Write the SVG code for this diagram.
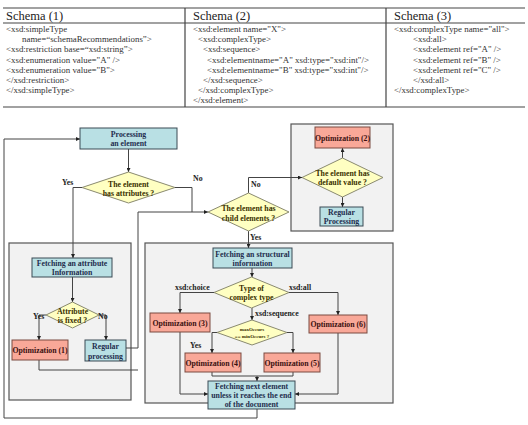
<svg xmlns="http://www.w3.org/2000/svg" width="528" height="425" viewBox="0 0 528 425">
<defs>
<marker id="ah" viewBox="0 0 6 6" refX="6" refY="3" markerWidth="4" markerHeight="4" orient="auto-start-reverse" markerUnits="strokeWidth">
<path d="M0,0 L6,3 L0,6 Z" fill="#222"/>
</marker>
<style>
.tl{stroke:#444;stroke-width:1.2;fill:none}
.th{font-family:"Liberation Serif","Times New Roman",serif;font-size:12.5px;fill:#222}
.tb{font-family:"Liberation Serif","Times New Roman",serif;font-size:8.9px;fill:#333}
.cont{fill:#f2f2f2;stroke:#555;stroke-width:1.2}
.teal{fill:#b9e0e4;stroke:#3a4a55;stroke-width:1}
.sal{fill:#f9a898;stroke:#7a4a40;stroke-width:1}
.dia{fill:#ffffc2;stroke:#8a8a70;stroke-width:1}
.nt{font-family:"Liberation Serif","Times New Roman",serif;font-weight:bold;font-size:7.8px;text-anchor:middle}
.navy{fill:#1f2d4d}
.mar{fill:#3a1010}
.olv{fill:#3a3000}
.lb{font-family:"Liberation Serif","Times New Roman",serif;font-weight:bold;font-size:7.8px;fill:#222}
.cn{stroke:#444;stroke-width:1;fill:none}
.ar{marker-end:url(#ah)}
</style>
</defs>
<rect width="528" height="425" fill="#fff"/>
<g id="table">
<line class="tl" x1="3" y1="8" x2="525" y2="8"/>
<line class="tl" x1="3" y1="23" x2="525" y2="23"/>
<line class="tl" x1="3" y1="107" x2="525" y2="107"/>
<line class="tl" x1="185" y1="8" x2="185" y2="107"/>
<line class="tl" x1="386" y1="8" x2="386" y2="107"/>
<text class="th" x="6" y="20">Schema (1)</text>
<text class="th" x="193" y="20">Schema (2)</text>
<text class="th" x="394" y="20">Schema (3)</text>
<text class="tb" x="6" y="32">&lt;xsd:simpleType</text>
<text class="tb" x="22" y="42.2">name=“schemaRecommendations”&gt;</text>
<text class="tb" x="6" y="52.4">&lt;xsd:restriction base=“xsd:string”&gt;</text>
<text class="tb" x="6" y="62.6">&lt;xsd:enumeration value="A" /&gt;</text>
<text class="tb" x="6" y="72.8">&lt;xsd:enumeration value="B"&gt;</text>
<text class="tb" x="6" y="83">&lt;/xsd:restriction&gt;</text>
<text class="tb" x="6" y="93.2">&lt;/xsd:simpleType&gt;</text>
<text class="tb" x="193" y="32">&lt;xsd:element name="X"&gt;</text>
<text class="tb" x="198" y="42.2">&lt;xsd:complexType&gt;</text>
<text class="tb" x="203" y="52.4">&lt;xsd:sequence&gt;</text>
<text class="tb" x="207" y="62.6">&lt;xsd:elementname="A" xsd:type="xsd:int"/&gt;</text>
<text class="tb" x="207" y="72.8">&lt;xsd:elementname="B" xsd:type="xsd:int"/&gt;</text>
<text class="tb" x="203" y="83">&lt;/xsd:sequence&gt;</text>
<text class="tb" x="198" y="93.2">&lt;/xsd:complexType&gt;</text>
<text class="tb" x="193" y="103.4">&lt;/xsd:element&gt;</text>
<text class="tb" x="394" y="32">&lt;xsd:complexType name="all"&gt;</text>
<text class="tb" x="413" y="42.2">&lt;xsd:all&gt;</text>
<text class="tb" x="413" y="52.4">&lt;xsd:element ref="A" /&gt;</text>
<text class="tb" x="413" y="62.6">&lt;xsd:element ref="B" /&gt;</text>
<text class="tb" x="413" y="72.8">&lt;xsd:element ref="C" /&gt;</text>
<text class="tb" x="413" y="83">&lt;/xsd:all&gt;</text>
<text class="tb" x="394" y="93.2">&lt;/xsd:complexType&gt;</text>
</g>
<g id="containers">
<rect class="cont" x="9" y="243" width="122" height="157"/>
<rect class="cont" x="291" y="124" width="102" height="107"/>
<rect class="cont" x="145" y="243" width="248" height="160"/>
</g>
<g id="connectors">
<path class="cn ar" d="M257,409 V418 H4 V139 H80"/>
<path class="cn ar" d="M128.5,149 V172"/>
<path class="cn ar" d="M82,187.5 H73 V258"/>
<path class="cn ar" d="M175,187.5 H192 V212 H208"/>
<path class="cn" d="M126,348 H138 V212 H192"/>
<path class="cn" d="M39,360 V370 H138"/>
<path class="cn ar" d="M248.5,193 V177.5 H302"/>
<path class="cn ar" d="M342.5,158 V148"/>
<path class="cn ar" d="M342.5,197 V207"/>
<path class="cn ar" d="M248.5,231 V248"/>
<path class="cn ar" d="M72.5,277 V302"/>
<path class="cn ar" d="M46,315 H39 V340"/>
<path class="cn ar" d="M99,315 H106 V340"/>
<path class="cn ar" d="M252,268 V277"/>
<path class="cn ar" d="M214,292.5 H180 V313"/>
<path class="cn ar" d="M289,292.5 H338 V315"/>
<path class="cn ar" d="M252,308 V320"/>
<path class="cn ar" d="M217,332.5 H212 V353"/>
<path class="cn ar" d="M287,332.5 H293 V353"/>
<path class="cn" d="M212,372 V376 H293 V372"/>
<path class="cn ar" d="M257,376 V381"/>
<path class="cn ar" d="M180,332 V394 H208"/>
<path class="cn ar" d="M338,333 V394 H295"/>
</g>
<g id="labels">
<text class="lb" x="62" y="185">Yes</text>
<text class="lb" x="193" y="181">No</text>
<text class="lb" x="251" y="187">No</text>
<text class="lb" x="250" y="240">Yes</text>
<text class="lb" x="33" y="319">Yes</text>
<text class="lb" x="98" y="319">No</text>
<text class="lb" x="175" y="290">xsd:choice</text>
<text class="lb" x="289" y="290">xsd:all</text>
<text class="lb" x="255" y="316">xsd:sequence</text>
<text class="lb" x="190" y="348">Yes</text>
</g>
<g id="processing">
<rect class="teal" x="80" y="128" width="97" height="21"/>
<text class="nt navy" x="128.5" y="136.5">Processing</text>
<text class="nt navy" x="128.5" y="146">an element</text>
</g>
<g id="hasAttributes">
<polygon class="dia" points="128.5,172 175,187.5 128.5,203 82,187.5"/>
<text class="nt olv" x="128.5" y="186.5">The element</text>
<text class="nt olv" x="128.5" y="196">has attributes ?</text>
</g>
<g id="hasChildren">
<polygon class="dia" points="248.5,193 289,212 248.5,231 208,212"/>
<text class="nt olv" x="248.5" y="211">The element has</text>
<text class="nt olv" x="248.5" y="220.5">child elements ?</text>
</g>
<g id="hasDefault">
<polygon class="dia" points="342.5,158 383,177.5 342.5,197 302,177.5"/>
<text class="nt olv" x="342.5" y="175.5">The element has</text>
<text class="nt olv" x="342.5" y="185">default value ?</text>
</g>
<g id="opt2">
<rect class="sal" x="315" y="127" width="55" height="21"/>
<text class="nt mar" x="342.5" y="140.5">Optimization (2)</text>
</g>
<g id="regular2">
<rect class="teal" x="320" y="207" width="43" height="19"/>
<text class="nt navy" x="341.5" y="215">Regular</text>
<text class="nt navy" x="341.5" y="223.5">Processing</text>
</g>
<g id="fetchAttr">
<rect class="teal" x="32" y="258" width="80" height="19"/>
<text class="nt navy" x="72" y="266">Fetching an attribute</text>
<text class="nt navy" x="72" y="275">Information</text>
</g>
<g id="attrFixed">
<polygon class="dia" points="72.5,302 99,315 72.5,328 46,315"/>
<text class="nt olv" x="72.5" y="313.5">Attribute</text>
<text class="nt olv" x="72.5" y="323">is fixed ?</text>
</g>
<g id="opt1">
<rect class="sal" x="12" y="340" width="56" height="20"/>
<text class="nt mar" x="40" y="353">Optimization (1)</text>
</g>
<g id="regular1">
<rect class="teal" x="85" y="340" width="41" height="21"/>
<text class="nt navy" x="105.5" y="349">Regular</text>
<text class="nt navy" x="105.5" y="358.5">processing</text>
</g>
<g id="fetchStruct">
<rect class="teal" x="213" y="248" width="79" height="20"/>
<text class="nt navy" x="252.5" y="256.5">Fetching an structural</text>
<text class="nt navy" x="252.5" y="265.5">information</text>
</g>
<g id="complexType">
<polygon class="dia" points="251.5,277 289,292.5 251.5,308 214,292.5"/>
<text class="nt olv" x="251.5" y="290.5">Type of</text>
<text class="nt olv" x="251.5" y="300">complex type</text>
</g>
<g id="opt3">
<rect class="sal" x="150" y="313" width="60" height="19"/>
<text class="nt mar" x="180" y="325.5">Optimization (3)</text>
</g>
<g id="opt6">
<rect class="sal" x="309" y="315" width="58" height="18"/>
<text class="nt mar" x="338" y="327">Optimization  (6)</text>
</g>
<g id="occurs">
<polygon class="dia" points="252,320 287,332.5 252,345 217,332.5"/>
<text class="nt olv" x="252" y="331" style="font-size:5px">maxOccurs</text>
<text class="nt olv" x="252" y="337.5" style="font-size:5px">== minOccurs ?</text>
</g>
<g id="opt4">
<rect class="sal" x="185" y="353" width="56" height="19"/>
<text class="nt mar" x="213" y="365.5">Optimization (4)</text>
</g>
<g id="opt5">
<rect class="sal" x="264" y="353" width="56" height="19"/>
<text class="nt mar" x="292" y="365.5">Optimization (5)</text>
</g>
<g id="fetchNext">
<rect class="teal" x="208" y="381" width="87" height="28"/>
<text class="nt navy" x="251.5" y="389">Fetching next element</text>
<text class="nt navy" x="251.5" y="398">unless it reaches the end</text>
<text class="nt navy" x="251.5" y="407">of the document</text>
</g>
</svg>
